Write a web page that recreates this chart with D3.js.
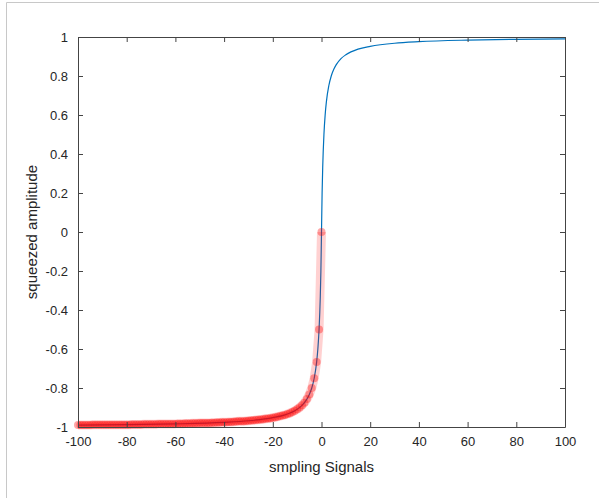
<!DOCTYPE html>
<html lang="en">
<head>
  <meta charset="UTF-8">
  <title>squeezed amplitude</title>
  <script src="https://d3js.org/d3.v7.min.js"></script>
  <style>
    html, body { margin: 0; padding: 0; background: #fff; }
    body { font-family: "Liberation Sans", Arial, sans-serif; }
  </style>
</head>
<body>
  <div id="chart"></div>
  <script>
    // Blue curve
    const lineX = [-100, -80, -60, -40, -30, -20, -15, -10, -8, -6, -5, -4, -3, -2, -1.5, -1, -0.5, -0.25, 0,
                   0.25, 0.5, 1, 1.5, 2, 3, 4, 5, 6, 8, 10, 15, 20, 30, 40, 60, 80, 100];
    const lineY = [-0.990, -0.988, -0.984, -0.976, -0.968, -0.952, -0.938, -0.909, -0.889, -0.857, -0.833, -0.800, -0.750, -0.667, -0.600, -0.500, -0.333, -0.200, 0,
                   0.200, 0.333, 0.500, 0.600, 0.667, 0.750, 0.800, 0.833, 0.857, 0.889, 0.909, 0.938, 0.952, 0.968, 0.976, 0.984, 0.988, 0.990];

    // Red sample markers at x = -100 .. 0
    const sampleX = d3.range(-100, 1);
    const sampleY = [
      -0.990, -0.990, -0.990, -0.990, -0.990, -0.990, -0.989, -0.989, -0.989, -0.989,
      -0.989, -0.989, -0.989, -0.989, -0.989, -0.988, -0.988, -0.988, -0.988, -0.988,
      -0.988, -0.988, -0.987, -0.987, -0.987, -0.987, -0.987, -0.986, -0.986, -0.986,
      -0.986, -0.986, -0.986, -0.985, -0.985, -0.985, -0.985, -0.984, -0.984, -0.984,
      -0.984, -0.983, -0.983, -0.983, -0.982, -0.982, -0.982, -0.981, -0.981, -0.981,
      -0.980, -0.980, -0.980, -0.979, -0.979, -0.978, -0.978, -0.977, -0.977, -0.976,
      -0.976, -0.975, -0.974, -0.974, -0.973, -0.972, -0.971, -0.971, -0.970, -0.969,
      -0.968, -0.967, -0.966, -0.964, -0.963, -0.962, -0.960, -0.958, -0.957, -0.955,
      -0.952, -0.950, -0.947, -0.944, -0.941, -0.938, -0.933, -0.929, -0.923, -0.917,
      -0.909, -0.900, -0.889, -0.875, -0.857, -0.833, -0.800, -0.750, -0.667, -0.500,
      0
    ];

    const xTicks = [-100, -80, -60, -40, -20, 0, 20, 40, 60, 80, 100];
    const yTicks = [-1, -0.8, -0.6, -0.4, -0.2, 0, 0.2, 0.4, 0.6, 0.8, 1];

    const width = 599, height = 498;
    const margin = {top: 37, right: 34, bottom: 71, left: 78};
    const axisColor = "#444";

    const svg = d3.select("#chart").append("svg")
        .attr("width", width)
        .attr("height", height);

    // figure frame (top and left edges only)
    svg.append("path")
        .attr("d", `M6.5,${height}V2.5H${width}`)
        .attr("fill", "none")
        .attr("stroke", "#c8c8c8");

    const x = d3.scaleLinear().domain([-100, 100]).range([margin.left, width - margin.right]);
    const y = d3.scaleLinear().domain([-1, 1]).range([height - margin.bottom, margin.top]);

    const fmt = d => String(d);

    // curves
    const line = d3.line().x((d, i) => x(lineX[i])).y((d, i) => y(lineY[i])).curve(d3.curveMonotoneX);
    svg.append("path")
        .datum(lineX)
        .attr("d", line)
        .attr("fill", "none")
        .attr("stroke", "#0072bd")
        .attr("stroke-width", 1.2);

    const sampleLine = d3.line().x((d, i) => x(sampleX[i])).y((d, i) => y(sampleY[i]));
    svg.append("path")
        .datum(sampleX)
        .attr("d", sampleLine)
        .attr("fill", "none")
        .attr("stroke", "red")
        .attr("stroke-opacity", 0.18)
        .attr("stroke-width", 9)
        .attr("stroke-linejoin", "round");

    svg.append("g")
      .selectAll("circle")
      .data(sampleX)
      .join("circle")
        .attr("cx", d => x(d))
        .attr("cy", (d, i) => y(sampleY[i]))
        .attr("r", 4)
        .attr("fill", "red")
        .attr("fill-opacity", 0.35);

    // axes (box with inward ticks)
    const axisB = svg.append("g")
        .attr("transform", `translate(0,${height - margin.bottom})`)
        .call(d3.axisBottom(x).tickValues(xTicks).tickFormat(fmt).tickSizeInner(-5).tickSizeOuter(0).tickPadding(10));
    const axisT = svg.append("g")
        .attr("transform", `translate(0,${margin.top})`)
        .call(d3.axisTop(x).tickValues(xTicks).tickFormat("").tickSizeInner(-5).tickSizeOuter(0));
    const axisL = svg.append("g")
        .attr("transform", `translate(${margin.left},0)`)
        .call(d3.axisLeft(y).tickValues(yTicks).tickFormat(fmt).tickSizeInner(-5).tickSizeOuter(0).tickPadding(10));
    const axisR = svg.append("g")
        .attr("transform", `translate(${width - margin.right},0)`)
        .call(d3.axisRight(y).tickValues(yTicks).tickFormat("").tickSizeInner(-5).tickSizeOuter(0));

    [axisB, axisT, axisL, axisR].forEach(g => {
      g.selectAll("path, line").attr("stroke", axisColor);
      g.selectAll("text")
          .attr("fill", "#262626")
          .style("font-family", "'Liberation Sans', Arial, sans-serif")
          .style("font-size", "13px");
    });

    // axis titles
    svg.append("text")
        .attr("x", x(0))
        .attr("y", 472)
        .attr("text-anchor", "middle")
        .attr("fill", "#262626")
        .style("font-size", "15px")
        .text("smpling Signals");

    svg.append("text")
        .attr("transform", `translate(37,${y(0)}) rotate(-90)`)
        .attr("text-anchor", "middle")
        .attr("fill", "#262626")
        .style("font-size", "15px")
        .text("squeezed amplitude");
  </script>
</body>
</html>
